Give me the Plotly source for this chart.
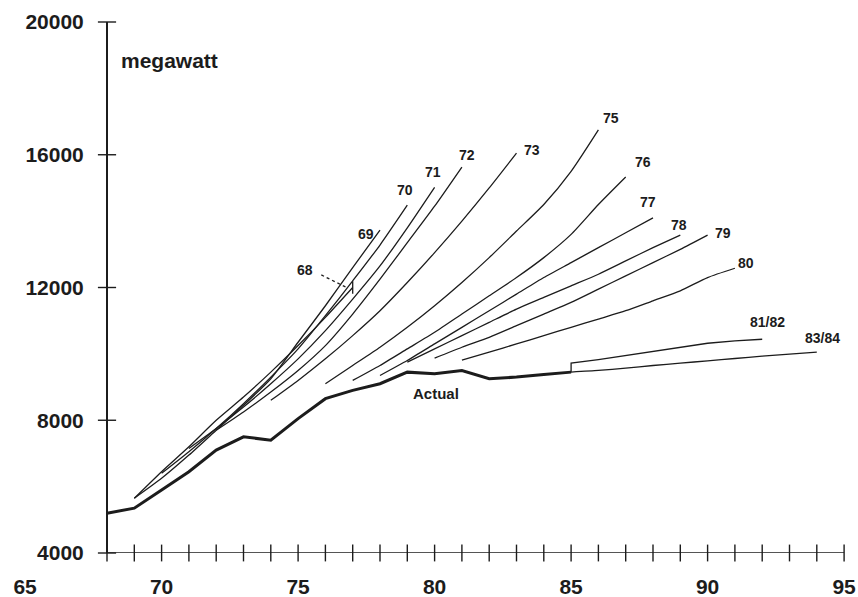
import plotly.graph_objects as go

# Recorded peak demand, megawatt
actual_years = list(range(68, 86))
actual_mw = [5200, 5350, 5900, 6450, 7100, 7500, 7400, 8050, 8650, 8900,
             9100, 9450, 9400, 9500, 9250, 9300, 9380, 9450]

# Successive forecasts, labelled by the year they were made
f68_years = list(range(69, 78))
f68_mw = [5650, 6450, 7200, 8000, 8700, 9450, 10250, 11100, 12000]

f69_years = list(range(69, 79))
f69_mw = [5650, 6250, 6950, 7700, 8450, 9250, 10350, 11450, 12600, 13730]

f70_years = list(range(70, 80))
f70_mw = [6400, 7050, 7750, 8500, 9300, 10150, 11150, 12200, 13280, 14480]

f71_years = list(range(71, 81))
f71_mw = [7150, 7750, 8400, 9100, 9850, 10700, 11650, 12650, 13800, 15020]

f72_years = list(range(72, 82))
f72_mw = [7700, 8250, 8850, 9500, 10250, 11200, 12250, 13350, 14450, 15630]

f73_years = list(range(74, 84))
f73_mw = [8600, 9200, 9850, 10550, 11300, 12150, 13050, 14000, 15000, 16050]

f75_years = list(range(76, 87))
f75_mw = [9100, 9650, 10200, 10800, 11450, 12150, 12900, 13700, 14500, 15500, 16750]

f76_years = list(range(77, 88))
f76_mw = [9200, 9650, 10150, 10650, 11200, 11750, 12300, 12900, 13600, 14500, 15330]

f77_years = list(range(78, 89))
f77_mw = [9350, 9800, 10300, 10800, 11300, 11800, 12300, 12750, 13200, 13650, 14100]

f78_years = list(range(79, 90))
f78_mw = [9750, 10150, 10550, 10950, 11350, 11700, 12050, 12400, 12800, 13200, 13580]

f79_years = list(range(80, 91))
f79_mw = [9870, 10200, 10500, 10850, 11200, 11550, 11950, 12350, 12750, 13150, 13580]

f80_years = list(range(81, 92))
f80_mw = [9810, 10050, 10300, 10550, 10800, 11050, 11300, 11600, 11900, 12300, 12580]

f8182_years = list(range(85, 93))
f8182_mw = [9720, 9830, 9950, 10080, 10200, 10320, 10390, 10440]

f8384_years = list(range(85, 95))
f8384_mw = [9450, 9500, 9570, 9650, 9720, 9790, 9860, 9930, 9990, 10050]

forecasts = [
    ("68", f68_years, f68_mw), ("69", f69_years, f69_mw), ("70", f70_years, f70_mw),
    ("71", f71_years, f71_mw), ("72", f72_years, f72_mw), ("73", f73_years, f73_mw),
    ("75", f75_years, f75_mw), ("76", f76_years, f76_mw), ("77", f77_years, f77_mw),
    ("78", f78_years, f78_mw), ("79", f79_years, f79_mw), ("80", f80_years, f80_mw),
    ("83/84", f8384_years, f8384_mw),
]

# Axis ticks and labels
x_label_vals = [65, 70, 75, 80, 85, 90, 95]
x_minor_ticks = list(range(68, 96))
y_tick_vals = [4000, 8000, 12000, 16000, 20000]
y_tick_text = ["4000", "8000", "12000", "16000", "20000"]

# Line labels: (text, year, megawatt)
line_labels = [
    ("68", 75.25, 12520), ("69", 77.5, 13610), ("70", 78.9, 14930),
    ("71", 79.95, 15480), ("72", 81.2, 15990), ("73", 83.55, 16140),
    ("75", 86.45, 17100), ("76", 87.65, 15780), ("77", 87.8, 14570),
    ("78", 88.95, 13880), ("79", 90.55, 13640), ("80", 91.4, 12730),
    ("81/82", 92.2, 10960), ("83/84", 94.2, 10480), ("Actual", 80.05, 8820),
]
leader_68_x = [75.85, 76.8]
leader_68_y = [12380, 11990]

INK = "#1c1c1c"
FONT = "Liberation Sans"

fig = go.Figure()

for name, xs, ys in forecasts:
    fig.add_trace(go.Scatter(x=xs, y=ys, mode="lines", name=name,
                             line=dict(color=INK, width=1.3, shape="spline", smoothing=0.6),
                             showlegend=False, hoverinfo="skip"))

# 81/82 forecast branches off the end of the recorded line
fig.add_trace(go.Scatter(x=[actual_years[-1]] + f8182_years,
                         y=[actual_mw[-1]] + f8182_mw, mode="lines",
                         line=dict(color=INK, width=1.3), showlegend=False,
                         hoverinfo="skip"))

# small end bar on the 68 forecast
fig.add_trace(go.Scatter(x=[f68_years[-1]], y=[f68_mw[-1]], mode="markers",
                         marker=dict(symbol="line-ns", size=9,
                                     line=dict(color=INK, width=1.3)),
                         showlegend=False, hoverinfo="skip"))

fig.add_trace(go.Scatter(x=actual_years, y=actual_mw, mode="lines", name="Actual",
                         line=dict(color=INK, width=3), showlegend=False,
                         hoverinfo="skip"))

fig.add_trace(go.Scatter(x=leader_68_x, y=leader_68_y, mode="lines",
                         line=dict(color=INK, width=1.3, dash="dot"),
                         showlegend=False, hoverinfo="skip"))

# axis lines and cross ticks
fig.add_trace(go.Scatter(x=[x_minor_ticks[0], x_minor_ticks[-1]], y=[4000, 4000],
                         mode="lines", line=dict(color=INK, width=1.6),
                         showlegend=False, hoverinfo="skip", cliponaxis=False))
fig.add_trace(go.Scatter(x=x_minor_ticks, y=[4000] * len(x_minor_ticks), mode="markers",
                         marker=dict(symbol="line-ns", size=12,
                                     line=dict(color=INK, width=1.4)),
                         showlegend=False, hoverinfo="skip", cliponaxis=False))
fig.add_trace(go.Scatter(x=[68] * len(y_tick_vals), y=y_tick_vals, mode="markers",
                         marker=dict(symbol="line-ew", size=13,
                                     line=dict(color=INK, width=1.4)),
                         showlegend=False, hoverinfo="skip", cliponaxis=False))

for text, xv, yv in line_labels:
    fig.add_annotation(x=xv, y=yv, text=text, showarrow=False,
                       font=dict(family=FONT, size=14 if text != "Actual" else 15,
                                 color=INK, weight="bold"))

fig.add_annotation(x=68.45, y=18850, text="megawatt", showarrow=False, xanchor="left",
                   font=dict(family=FONT, size=21, color=INK, weight="bold"))

x_lo = 68 - 107 / 27.3
x_hi = 68 + 751 / 27.3

fig.update_layout(
    width=858, height=597,
    margin=dict(l=0, r=0, t=22, b=44),
    paper_bgcolor="white", plot_bgcolor="white",
    xaxis=dict(range=[x_lo, x_hi], tickvals=x_label_vals, ticks="",
               showgrid=False, zeroline=False, showline=False,
               ticklabelstandoff=19,
               tickfont=dict(family=FONT, size=21, color=INK, weight="bold")),
    yaxis=dict(range=[4000, 20000], tickvals=y_tick_vals, ticktext=y_tick_text,
               ticks="", anchor="free", position=107 / 858,
               showgrid=False, zeroline=False, showline=True,
               linecolor=INK, linewidth=2, ticklabelstandoff=18,
               tickfont=dict(family=FONT, size=21, color=INK, weight="bold")),
)

fig.write_html("out.html")
